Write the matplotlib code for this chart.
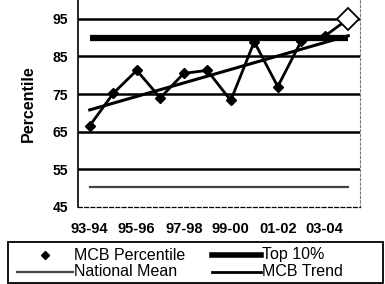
import matplotlib
matplotlib.use('Agg')
import matplotlib.pyplot as plt
from matplotlib.lines import Line2D
from matplotlib.patches import Rectangle

# Data
years = ['93-94', '94-95', '95-96', '96-97', '97-98', '98-99',
         '99-00', '00-01', '01-02', '02-03', '03-04', '04-05']
mcb_percentile = [66.6, 75.2, 81.3, 74.0, 80.5, 81.3, 73.3, 88.9, 77.0, 89.1, 90.4, 95.0]
top_10 = [90, 90]
national_mean = [50.3, 50.3]
mcb_trend = [70.8, 90.5]
y_ticks = [45, 55, 65, 75, 85, 95]

plt.rcParams['font.family'] = ['Liberation Sans', 'DejaVu Sans']

W, H = 385, 284
fig = plt.figure(figsize=(W / 100, H / 100), dpi=100)
ax = fig.add_axes([78 / W, 1 - 207 / H, 282 / W, 207 / H])

x = list(range(len(years)))
ends = [x[0], x[-1]]

# horizontal grid lines
for t in y_ticks[1:]:
    ax.axhline(t, color='black', lw=1.8, zorder=1)

ax.plot(ends, top_10, color='black', lw=4.5, solid_capstyle='butt', zorder=2)
ax.plot(ends, national_mean, color='#444444', lw=1.6, zorder=2)
ax.plot(ends, mcb_trend, color='black', lw=2.2, zorder=3)
ax.plot(x[:-1], mcb_percentile[:-1], color='black', lw=2.0, marker='D',
        markersize=5, zorder=4)
ax.plot(x[-2:], mcb_percentile[-2:], color='black', lw=2.0, zorder=4)
ax.plot(x[-1], mcb_percentile[-1], marker='D', markersize=11,
        markerfacecolor='white', markeredgecolor='black', markeredgewidth=1.3,
        zorder=5)

ax.set_xlim(-0.5, 11.5)
ax.set_ylim(45, 100)
ax.set_yticks(y_ticks)
ax.set_yticklabels([str(t) for t in y_ticks], fontweight='bold', fontsize=10)
ax.set_xticks(x[::2])
ax.set_xticklabels(years[::2], fontweight='bold', fontsize=10.5)
ax.tick_params(axis='y', length=0, pad=7)
ax.tick_params(axis='x', length=0, pad=11)
ax.set_ylabel('Percentile', fontweight='bold', fontsize=11.5, labelpad=12)

ax.spines['top'].set_visible(False)
ax.spines['left'].set_linewidth(1.2)
ax.spines['bottom'].set_linestyle((0, (3, 2)))
ax.spines['bottom'].set_linewidth(0.9)
ax.spines['right'].set_linestyle((0, (2, 2)))
ax.spines['right'].set_color('#777777')
ax.spines['right'].set_linewidth(0.8)

# legend drawn by hand to match the box layout
def fx(px):
    return px / W

def fy(py):
    return 1 - py / H

fig.add_artist(Rectangle((fx(8), fy(283)), fx(375), 41 / H, fill=False,
                         edgecolor='black', lw=1.3, transform=fig.transFigure))
row1, row2 = 255, 272
fig.add_artist(Line2D([fx(45)], [fy(row1)], marker='D', markersize=4,
                      color='black', lw=0, transform=fig.transFigure))
fig.add_artist(Line2D([fx(17), fx(73)], [fy(row2), fy(row2)], color='#444444',
                      lw=1.6, transform=fig.transFigure))
fig.add_artist(Line2D([fx(212), fx(261)], [fy(row1), fy(row1)], color='black',
                      lw=4, transform=fig.transFigure))
fig.add_artist(Line2D([fx(212), fx(261)], [fy(row2), fy(row2)], color='black',
                      lw=2, transform=fig.transFigure))
legend_font = dict(fontsize=11.5, va='center', ha='left')
fig.text(fx(74), fy(row1), 'MCB Percentile', **legend_font)
fig.text(fx(74), fy(row2), 'National Mean', **legend_font)
fig.text(fx(262), fy(row1), 'Top 10%', **legend_font)
fig.text(fx(262), fy(row2), 'MCB Trend', **legend_font)

fig.savefig('out.png', dpi=100)
